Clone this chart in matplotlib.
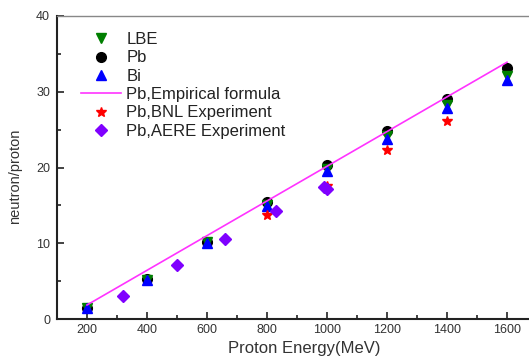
import matplotlib
matplotlib.use("Agg")
import matplotlib.pyplot as plt
from matplotlib.ticker import MultipleLocator

plt.rcParams['font.family'] = ['Liberation Sans', 'DejaVu Sans']

energy = [200, 400, 600, 800, 1000, 1200, 1400, 1600]
pb = [1.5, 5.3, 10.2, 15.4, 20.3, 24.8, 29.1, 33.2]
lbe = [1.4, 5.2, 10.1, 15.1, 19.8, 24.2, 28.3, 32.1]
bi = [1.4, 5.2, 10.0, 14.9, 19.5, 23.8, 27.8, 31.5]

emp_e = [200, 1600]
emp_n = [1.85, 33.9]

bnl_e = [800, 1000, 1200, 1400]
bnl_n = [13.7, 17.6, 22.3, 26.2]

aere_e = [320, 500, 660, 830, 990, 1000]
aere_n = [3.1, 7.1, 10.6, 14.3, 17.4, 17.1]

fig = plt.figure(figsize=(5.29, 3.61), dpi=100)
ax = fig.add_axes([57/529, 42/361, (537-57)/529, (319-16)/361])

ax.plot(energy, pb, 'o', color='black', ms=7, label='Pb', zorder=3)
ax.plot(energy, lbe, 'v', color='#007f00', ms=7, label='LBE', zorder=4)
ax.plot(energy, bi, '^', color='#0000ff', ms=7, label='Bi', zorder=5)
ax.plot(emp_e, emp_n, '-', color='#ff33ff', lw=1.2, label='Pb,Empirical formula', zorder=6)
ax.plot(bnl_e, bnl_n, '*', color='#ff0000', ms=7, label='Pb,BNL Experiment', zorder=6)
ax.plot(aere_e, aere_n, 'D', color='#7f00ff', ms=6.5, label='Pb,AERE Experiment', zorder=7)

ax.set_xlim(100, 1700)
ax.set_ylim(0, 40)
ax.xaxis.set_major_locator(MultipleLocator(200))
ax.xaxis.set_minor_locator(MultipleLocator(100))
ax.yaxis.set_major_locator(MultipleLocator(10))
ax.yaxis.set_minor_locator(MultipleLocator(5))
ax.tick_params(which='both', direction='in', top=False, right=False, labelsize=9, colors='#222222')
ax.tick_params(which='major', length=5, width=1.2)
ax.tick_params(which='minor', length=3, width=1.2)
ax.tick_params(axis='y', pad=5)
for lab in ax.get_xticklabels() + ax.get_yticklabels():
    lab.set_color('#333333')

ax.spines['left'].set_linewidth(1.5)
ax.spines['left'].set_color('#222222')
ax.spines['bottom'].set_linewidth(1.5)
ax.spines['bottom'].set_color('#222222')
ax.spines['top'].set_linewidth(1.0)
ax.spines['top'].set_color('#888888')
ax.spines['right'].set_visible(False)

ax.set_xlabel('Proton Energy(MeV)', fontsize=12, color='#333333')
ax.xaxis.set_label_coords((304-57)/(537-57), -0.072)
ax.set_ylabel('neutron/proton', fontsize=10.5, color='#333333')
ax.yaxis.set_label_coords((22-57)/480, (319-176)/303)

handles, labels = ax.get_legend_handles_labels()
order = ['LBE', 'Pb', 'Bi', 'Pb,Empirical formula', 'Pb,BNL Experiment', 'Pb,AERE Experiment']
hmap = dict(zip(labels, handles))
ax.legend([hmap[k] for k in order], order, loc='upper left', frameon=False,
          fontsize=12, bbox_to_anchor=(0.03, 0.98), handlelength=2.4,
          labelspacing=0.2, handletextpad=0.3, borderaxespad=0.2, labelcolor='#222222')

fig.savefig('out.png', dpi=100)
